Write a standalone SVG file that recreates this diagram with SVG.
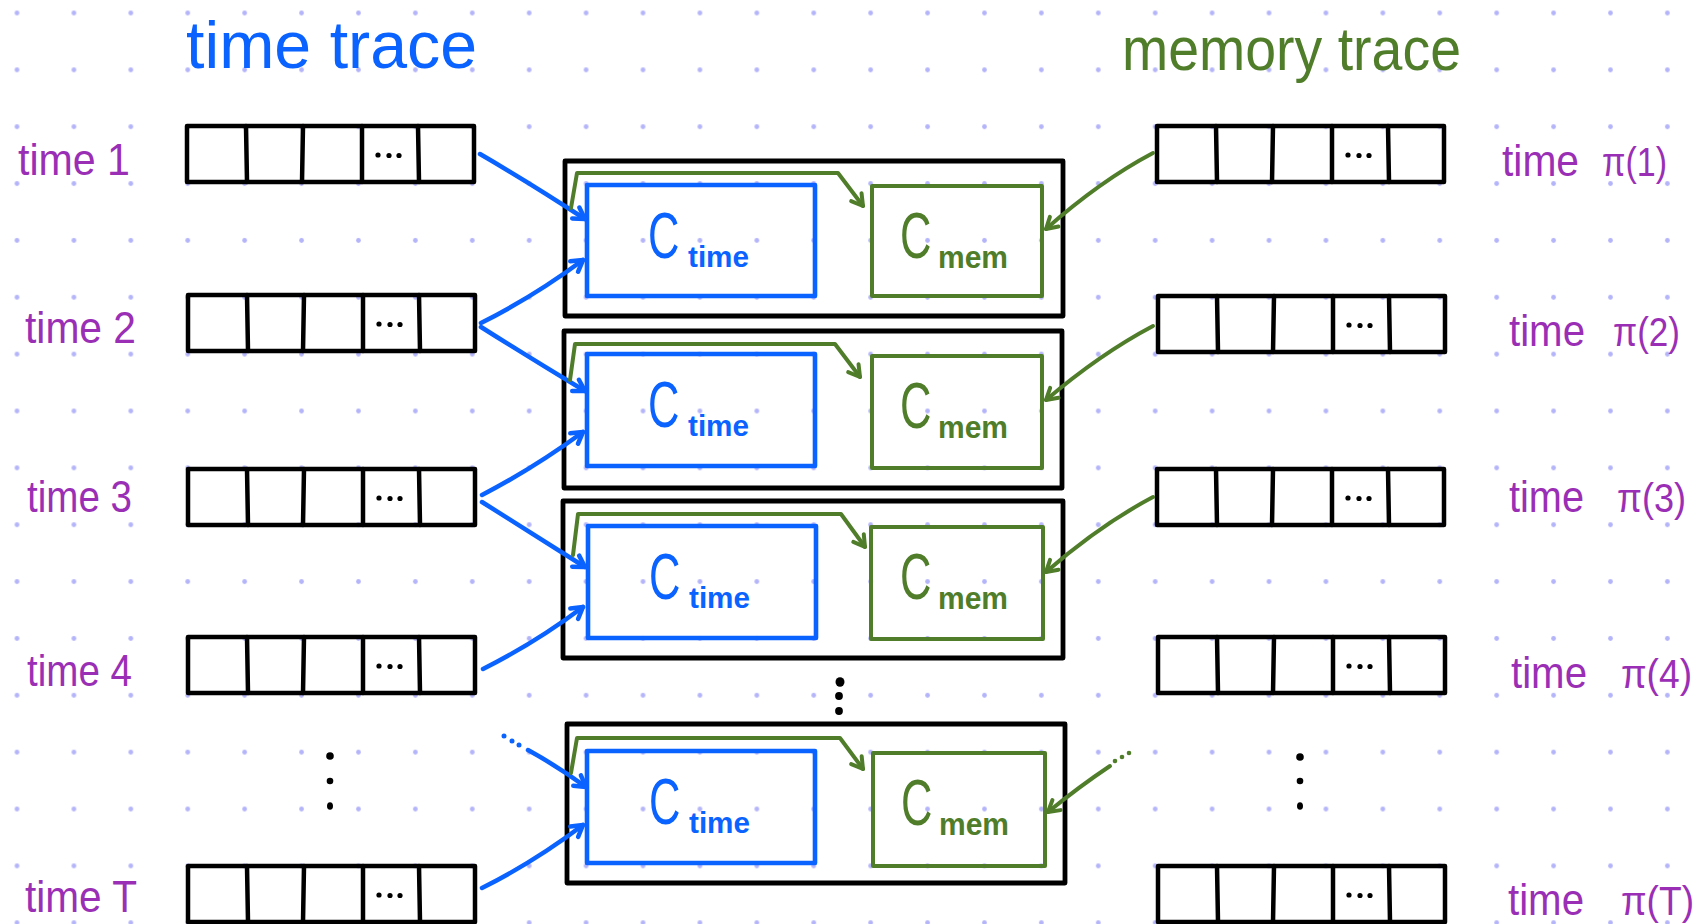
<svg xmlns="http://www.w3.org/2000/svg" xmlns:xlink="http://www.w3.org/1999/xlink" width="1699" height="924" viewBox="0 0 1699 924">
<style>
.arr{fill:none;stroke:#000;stroke-width:4.5;stroke-linejoin:round;stroke-linecap:round}
.outer{fill:none;stroke:#000;stroke-width:4.8;stroke-linejoin:round}
.ct{fill:none;stroke:#0a62ff;stroke-width:4.6;stroke-linejoin:round}
.cm{fill:none;stroke:#507d2a;stroke-width:4;stroke-linejoin:round}
.lb{fill:none;stroke:#0a62ff;stroke-width:4.5;stroke-linecap:round;stroke-linejoin:round}
.lg{fill:none;stroke:#507d2a;stroke-width:4;stroke-linecap:round;stroke-linejoin:round}
.lbl{font-family:"Liberation Sans","Noto Sans",sans-serif;fill:#9a2fb5;font-size:44px}
.pi{font-size:40px}
.ttl{font-family:"Liberation Sans","Noto Sans",sans-serif}
.bigc{font-family:"Liberation Sans","Noto Sans",sans-serif;font-size:64px}
.sub{font-family:"Liberation Sans","Noto Sans",sans-serif;font-weight:bold}
.tb{fill:#0a62ff}
.tg{fill:#507d2a}
</style>
<defs>
<pattern id="grid" x="-11.455" y="-15.43" width="56.91" height="56.86" patternUnits="userSpaceOnUse">
<circle cx="28.455" cy="28.43" r="2.4" fill="#b4b4fa"/>
</pattern>
<g id="cells">
<rect class="arr" x="0" y="0" width="287" height="56"/>
<path class="arr" d="M59,0 L60,56 M116,0 L115,56 M175,0 L175,56 M231,0 L232,56"/>
<circle cx="191" cy="29" r="2.6"/><circle cx="202" cy="29.5" r="2.6"/><circle cx="212" cy="29.5" r="2.6"/>
</g>
<marker id="ab" markerUnits="userSpaceOnUse" viewBox="-15 -15 30 30" markerWidth="30" markerHeight="30" refX="0" refY="0" orient="auto">
<path d="M-11,-6.5 L0,0 L-11,6.5" fill="none" stroke="#0a62ff" stroke-width="4.5" stroke-linecap="round" stroke-linejoin="round"/>
</marker>
<marker id="ag" markerUnits="userSpaceOnUse" viewBox="-15 -15 30 30" markerWidth="30" markerHeight="30" refX="0" refY="0" orient="auto">
<path d="M-11,-6.5 L0,0 L-11,6.5" fill="none" stroke="#507d2a" stroke-width="4" stroke-linecap="round" stroke-linejoin="round"/>
</marker>
</defs>
<rect width="1699" height="924" fill="#fff"/>
<rect width="1699" height="924" fill="url(#grid)"/>

<g id="title-time"><text class="ttl" x="186" y="68" font-size="66" fill="#0a62ff" textLength="291" lengthAdjust="spacingAndGlyphs">time trace</text></g>
<g id="title-mem"><text class="ttl" x="1122" y="70" font-size="62" fill="#507d2a" textLength="339" lengthAdjust="spacingAndGlyphs">memory trace</text></g>

<g id="left-labels">
<text class="lbl" x="18" y="175" textLength="112" lengthAdjust="spacingAndGlyphs">time 1</text>
<text class="lbl" x="25" y="343" textLength="111" lengthAdjust="spacingAndGlyphs">time 2</text>
<text class="lbl" x="27" y="512" textLength="105" lengthAdjust="spacingAndGlyphs">time 3</text>
<text class="lbl" x="27" y="686" textLength="105" lengthAdjust="spacingAndGlyphs">time 4</text>
<text class="lbl" x="25" y="912" textLength="112" lengthAdjust="spacingAndGlyphs">time T</text>
</g>

<g id="left-arrays">
<use xlink:href="#cells" href="#cells" transform="translate(187,126)"/>
<use xlink:href="#cells" href="#cells" transform="translate(188,295)"/>
<use xlink:href="#cells" href="#cells" transform="translate(188,469)"/>
<use xlink:href="#cells" href="#cells" transform="translate(188,637)"/>
<use xlink:href="#cells" href="#cells" transform="translate(188,866)"/>
<circle cx="330" cy="756" r="3.8"/><circle cx="330" cy="781" r="3.3"/><ellipse cx="330" cy="806" rx="3" ry="3.8"/>
</g>

<g id="right-arrays">
<use xlink:href="#cells" href="#cells" transform="translate(1157,126)"/>
<use xlink:href="#cells" href="#cells" transform="translate(1158,296)"/>
<use xlink:href="#cells" href="#cells" transform="translate(1157,469)"/>
<use xlink:href="#cells" href="#cells" transform="translate(1158,637)"/>
<use xlink:href="#cells" href="#cells" transform="translate(1158,866)"/>
<circle cx="1300" cy="757" r="3.8"/><circle cx="1300" cy="781" r="3.3"/><ellipse cx="1300" cy="806" rx="3" ry="3.8"/>
</g>

<g id="right-labels">
<text class="lbl"><tspan x="1502" y="176" textLength="77" lengthAdjust="spacingAndGlyphs">time</tspan> <tspan class="pi" x="1602" y="176" textLength="65" lengthAdjust="spacingAndGlyphs">π(1)</tspan></text>
<text class="lbl"><tspan x="1509" y="346" textLength="76" lengthAdjust="spacingAndGlyphs">time</tspan> <tspan class="pi" x="1613" y="346" textLength="67" lengthAdjust="spacingAndGlyphs">π(2)</tspan></text>
<text class="lbl"><tspan x="1509" y="512" textLength="75" lengthAdjust="spacingAndGlyphs">time</tspan> <tspan class="pi" x="1617" y="512" textLength="69" lengthAdjust="spacingAndGlyphs">π(3)</tspan></text>
<text class="lbl"><tspan x="1511" y="688" textLength="76" lengthAdjust="spacingAndGlyphs">time</tspan> <tspan class="pi" x="1621" y="688" textLength="71" lengthAdjust="spacingAndGlyphs">π(4)</tspan></text>
<text class="lbl"><tspan x="1508" y="915" textLength="76" lengthAdjust="spacingAndGlyphs">time</tspan> <tspan class="pi" x="1621" y="915" textLength="73" lengthAdjust="spacingAndGlyphs">π(T)</tspan></text>
</g>

<g id="block-1">
<rect class="outer" x="565" y="161" width="498" height="155"/>
<rect class="ct" x="587" y="185" width="228" height="111"/>
<rect class="cm" x="872" y="186" width="170" height="110"/>
<text class="bigc tb" transform="translate(648,258) scale(0.68,1)">C</text>
<text class="sub tb" x="688" y="267" font-size="30" textLength="61" lengthAdjust="spacingAndGlyphs">time</text>
<text class="bigc tg" transform="translate(900,258) scale(0.68,1)">C</text>
<text class="sub tg" x="938" y="268" font-size="32" textLength="70" lengthAdjust="spacingAndGlyphs">mem</text>
</g>
<g id="block-2">
<rect class="outer" x="564" y="331" width="498" height="157"/>
<rect class="ct" x="587" y="354" width="228" height="112"/>
<rect class="cm" x="872" y="356" width="170" height="112"/>
<text class="bigc tb" transform="translate(648,427) scale(0.68,1)">C</text>
<text class="sub tb" x="688" y="436" font-size="30" textLength="61" lengthAdjust="spacingAndGlyphs">time</text>
<text class="bigc tg" transform="translate(900,428) scale(0.68,1)">C</text>
<text class="sub tg" x="938" y="438" font-size="32" textLength="70" lengthAdjust="spacingAndGlyphs">mem</text>
</g>
<g id="block-3">
<rect class="outer" x="563" y="501" width="500" height="157"/>
<rect class="ct" x="588" y="526" width="228" height="112"/>
<rect class="cm" x="871" y="527" width="172" height="112"/>
<text class="bigc tb" transform="translate(649,599) scale(0.68,1)">C</text>
<text class="sub tb" x="689" y="608" font-size="30" textLength="61" lengthAdjust="spacingAndGlyphs">time</text>
<text class="bigc tg" transform="translate(900,599) scale(0.68,1)">C</text>
<text class="sub tg" x="938" y="609" font-size="32" textLength="70" lengthAdjust="spacingAndGlyphs">mem</text>
</g>
<g id="dots-mid">
<ellipse cx="840" cy="682" rx="4.5" ry="4.8"/><circle cx="839" cy="696" r="3.9"/><circle cx="839" cy="711" r="3.9"/>
</g>
<g id="block-4">
<rect class="outer" x="567" y="724" width="498" height="159"/>
<rect class="ct" x="587" y="751" width="228" height="112"/>
<rect class="cm" x="873" y="753" width="172" height="113"/>
<text class="bigc tb" transform="translate(649,824) scale(0.68,1)">C</text>
<text class="sub tb" x="689" y="833" font-size="30" textLength="61" lengthAdjust="spacingAndGlyphs">time</text>
<text class="bigc tg" transform="translate(901,825) scale(0.68,1)">C</text>
<text class="sub tg" x="939" y="835" font-size="32" textLength="70" lengthAdjust="spacingAndGlyphs">mem</text>
</g>

<g id="connectors">
<path class="lb" marker-end="url(#ab)" d="M480,154 Q530,183 585,219"/>
<path class="lb" marker-end="url(#ab)" d="M481,323 Q533,297 583,260"/>
<path class="lb" marker-end="url(#ab)" d="M481,327 Q530,358 585,391"/>
<path class="lb" marker-end="url(#ab)" d="M482,495 Q534,468 583,432"/>
<path class="lb" marker-end="url(#ab)" d="M482,502 Q531,533 585,567"/>
<path class="lb" marker-end="url(#ab)" d="M483,669 Q535,643 583,607"/>
<g fill="#0a62ff"><circle cx="504" cy="736" r="2.5"/><circle cx="512" cy="741" r="2.5"/><circle cx="519" cy="745" r="2.5"/></g>
<path class="lb" marker-end="url(#ab)" d="M528,750 Q557,766 586,787"/>
<path class="lb" marker-end="url(#ab)" d="M482,888 Q534,862 583,825"/>

<path class="lg" marker-end="url(#ag)" d="M1153,153 Q1100,181 1046,229"/>
<path class="lg" marker-end="url(#ag)" d="M1153,326 Q1100,354 1046,400"/>
<path class="lg" marker-end="url(#ag)" d="M1153,497 Q1100,525 1046,572"/>
<g fill="#507d2a"><circle cx="1129" cy="753" r="2.3"/><circle cx="1122" cy="757" r="2.3"/><circle cx="1115" cy="761" r="2.3"/></g>
<path class="lg" marker-end="url(#ag)" d="M1110,766 Q1080,786 1048,812"/>

<path class="lg" marker-end="url(#ag)" d="M571,208 L577,173 L838,173 L863,206"/>
<path class="lg" marker-end="url(#ag)" d="M570,380 L575,344 L835,344 L860,377"/>
<path class="lg" marker-end="url(#ag)" d="M573,555 L578,514 L841,514 L865,547"/>
<path class="lg" marker-end="url(#ag)" d="M571,773 L577,738 L840,738 L863,769"/>
</g>
</svg>
